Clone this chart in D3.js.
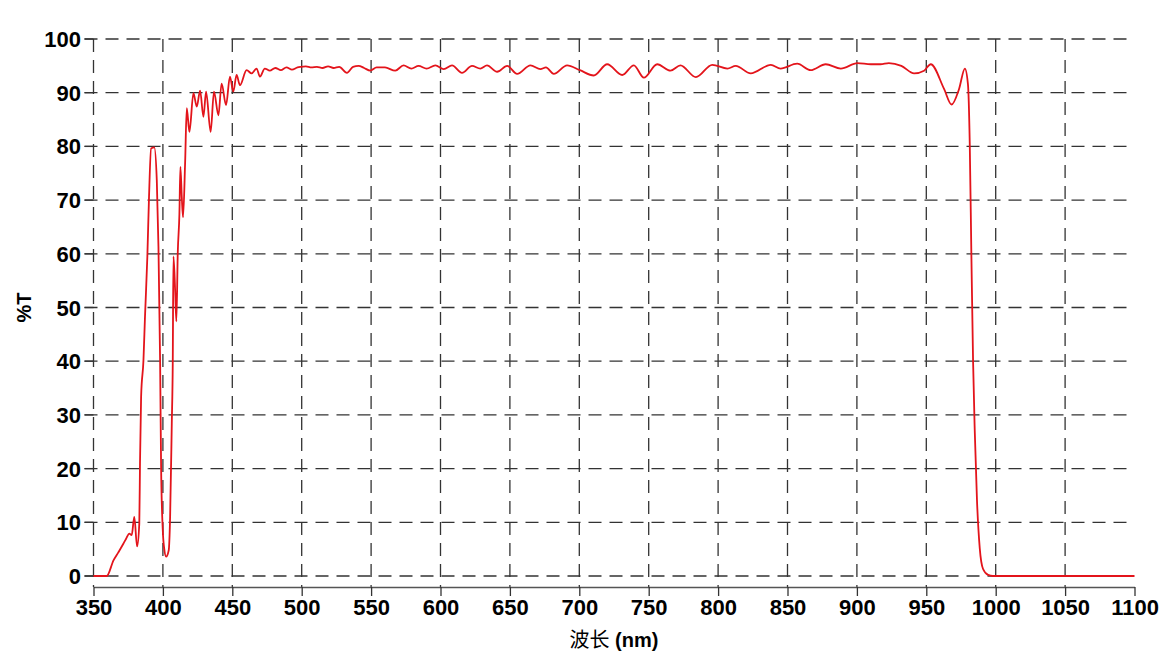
<!DOCTYPE html>
<html><head><meta charset="utf-8">
<script src="https://cdn.jsdelivr.net/npm/d3@7"></script>
<style>
html,body{margin:0;padding:0;background:#fff;}
svg{display:block;}
.tick-label{font-family:"Liberation Sans Narrow","Arial Narrow","Liberation Sans",Arial,sans-serif;font-weight:bold;font-size:22px;fill:#000;}
</style></head>
<body>
<svg id="chart" width="1174" height="658"></svg>
<script>
const wavelength = [350,358,359.5,364.4,367.9,371.5,373.4,375.8,377.5,379.4,381.4,383,383.5,384.3,386,387.1,388.8,390,391.5,393.8,395.6,396.8,398,398.7,399.9,401,402.3,404.2,405.2,406.4,407.1,407.6,408.8,409.7,410.7,411.9,412.6,413.6,414.5,416,417.2,419.1,422,424.4,426.8,429.2,431.1,434.4,436.8,440,442.3,445.5,448.3,450.7,453.1,455.5,460.3,463.9,467.5,469.9,473.4,477,481,485,489,493,497,
499,503,507,511,515,519,523,527,532.6,537,541,545,549.4,554,560,567.4,573.4,579,584.2,590,596.3,602.3,608.3,615.5,622.7,628.7,633.5,640.8,648,655.2,664.8,672,676,681.6,691.2,700.4,710.4,720.1,730.9,739.3,746.5,756.1,765.7,772.9,784,795.8,806.7,812.7,823.5,838,845,857,866.7,877.5,888.4,900.4,910,917,923,932,941.2,948.4,953.2,962.8,968.2,973.6,977.8,980,981.3,982.5,983.7,984.9,986.5,988.5,990.9,994.5,998,1100];
const transmittance = [0,0,0,2.9,4.4,6.0,6.9,7.9,7.6,11.0,5.5,9.8,21,33.4,40.2,48.3,59.5,70.6,79.6,79.8,73.7,61.3,39.7,20.4,8.6,5,3.6,4.8,11,28.4,39.6,59.5,53.3,47.4,60.1,67.5,76.2,70.6,66.8,76.9,87.1,82.7,89.9,87.4,90.4,85.5,90.2,82.7,90.2,85.8,91.7,87.7,93,90.2,93.3,91.4,94.2,93.6,94.5,93,94.5,94.1,94.6,94.2,94.7,94.3,94.7,
94.8,94.9,94.7,94.8,94.6,94.9,94.6,94.8,93.7,94.8,95.0,94.6,94.1,94.7,94.7,94.1,95.1,94.5,95.0,94.5,95.1,94.4,95.1,93.7,95.0,94.5,95.1,93.9,95.0,93.5,95.1,94.4,94.7,93.5,95.1,94.2,93.2,95.3,93.3,95.1,92.8,95.3,94.1,95.1,92.9,95.2,94.5,95.0,93.6,95.2,94.5,95.4,94.2,95.3,94.5,95.5,95.3,95.3,95.5,95.0,93.6,94.1,95.3,90.7,87.8,90.7,94.5,91.6,80.6,59.4,40,27.1,14.2,5.2,1.3,0.2,0,0];
const xTicks = [350,400,450,500,550,600,650,700,750,800,850,900,950,1000,1050,1100];
const yTicks = [0,10,20,30,40,50,60,70,80,90,100];
const yLabel = "%T";
const xLabelCJK = "波长";
const xLabelUnit = " (nm)";

const svg = d3.select("#chart");
const x = d3.scaleLinear().domain([350,1100]).range([93.5,1134.5]);
const y = d3.scaleLinear().domain([0,100]).range([576,39]);
const yAxisLine = y(-2.05);
const gridColor = "#333";

// horizontal grid
svg.append("g").selectAll("line").data(yTicks).join("line")
  .attr("x1", x(350)-9).attr("x2", x(1100))
  .attr("y1", d=>y(d)).attr("y2", d=>y(d))
  .attr("stroke", gridColor).attr("stroke-width",1.3)
  .attr("stroke-dasharray","13,8");
// small solid tick stubs on left
svg.append("g").selectAll("line").data(yTicks).join("line")
  .attr("x1", x(350)-9).attr("x2", x(350))
  .attr("y1", d=>y(d)).attr("y2", d=>y(d))
  .attr("stroke", gridColor).attr("stroke-width",1.3);
// vertical grid (no line at 1100)
svg.append("g").selectAll("line").data(xTicks.filter(d=>d<1100)).join("line")
  .attr("x1", d=>x(d)).attr("x2", d=>x(d))
  .attr("y1", y(100)).attr("y2", yAxisLine)
  .attr("stroke", gridColor).attr("stroke-width",1.3)
  .attr("stroke-dasharray","13,8");

// bottom axis
const xAxis = d3.axisBottom(x).tickValues(xTicks).tickSize(9).tickSizeOuter(0).tickFormat(d3.format("d"));
const gx = svg.append("g").attr("transform", `translate(0,${yAxisLine})`).call(xAxis);
gx.select(".domain").attr("stroke","#555").attr("stroke-width",1.6);
gx.selectAll(".tick line").attr("stroke","#333").attr("stroke-width",1.3);
gx.selectAll(".tick text").attr("class","tick-label").attr("y",12).attr("dy","0.71em");

// y tick labels
svg.append("g").selectAll("text").data(yTicks).join("text")
  .attr("class","tick-label")
  .attr("x", 81).attr("y", d=>y(d)+8)
  .attr("text-anchor","end")
  .text(d=>d);

// curve
const pts = wavelength.map((w,i)=>[w, transmittance[i]]);
const line = d3.line().x(d=>x(d[0])).y(d=>y(d[1])).curve(d3.curveMonotoneX);
svg.append("path").datum(pts)
  .attr("d", line).attr("fill","none")
  .attr("stroke","#e3141b").attr("stroke-width",1.8)
  .attr("stroke-linejoin","round");

// axis titles
svg.append("text")
  .attr("transform", `translate(31,${(y(0)+y(100))/2}) rotate(-90)`)
  .attr("text-anchor","middle")
  .style("font-family","'Liberation Sans',Arial,sans-serif")
  .style("font-weight","bold").style("font-size","20px")
  .text(yLabel);

const xt = svg.append("text")
  .attr("x", (x(350)+x(1100))/2).attr("y", 647)
  .attr("text-anchor","middle")
  .style("font-size","20px");
xt.append("tspan").style("font-family","'Noto Sans CJK SC',sans-serif").text(xLabelCJK);
xt.append("tspan").style("font-family","'Liberation Sans',Arial,sans-serif").style("font-weight","bold").text(xLabelUnit);
</script>
</body></html>
